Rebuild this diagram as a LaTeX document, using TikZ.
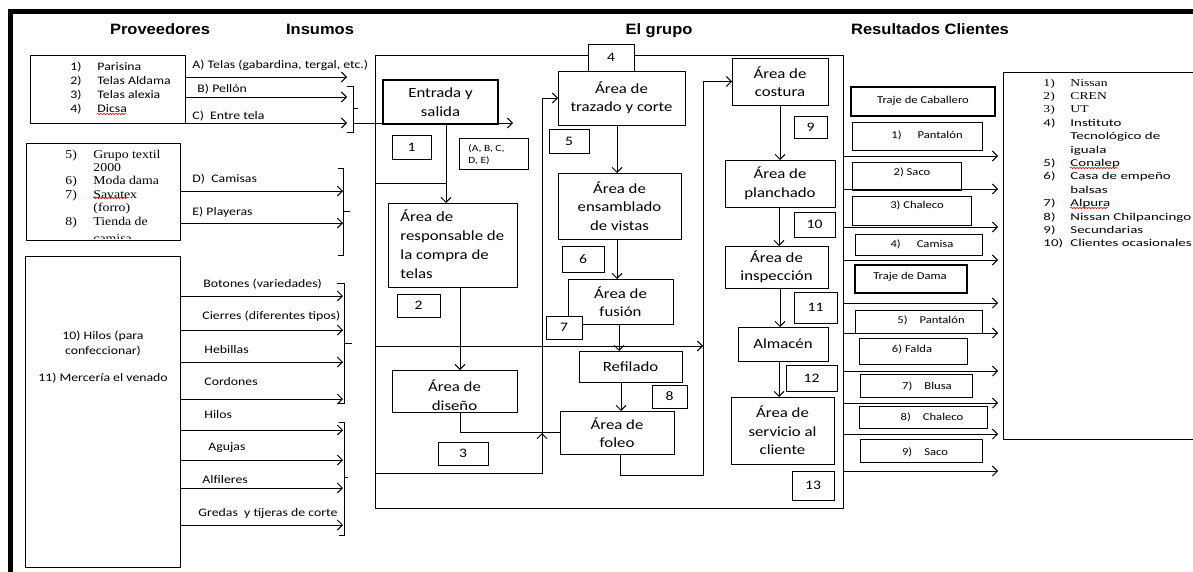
\documentclass[tikz,border=0pt]{standalone}
\usepackage{fontspec}
\usetikzlibrary{arrows.meta,calc,decorations.pathmorphing}
\newfontfamily\bodyfont{Carlito}[FakeStretch=1.2]
\newfontfamily\listfont{Carlito}[FakeStretch=1.42]
\newfontfamily\seriffont{Liberation Serif}[FakeStretch=1.15]
\newfontfamily\listserif{Liberation Serif}[FakeStretch=1.3]
\newfontfamily\titlefont{Liberation Sans}[FakeStretch=1.1]
\newcommand\fs[2]{\fontsize{#1}{#2}\selectfont}
\newcommand\lft[1]{\begin{tabular}[t]{@{}l@{}}#1\end{tabular}}
\begin{document}
\begin{tikzpicture}[x=1pt,y=-1pt,line width=0.9pt,
  rect/.style args={#1/#2/#3/#4}{at={({(#1+#3)/2},{(#2+#4)/2})},minimum width={(#3-#1)*1pt},minimum height={(#4-#2)*1pt}},
  box/.style={draw,inner sep=0pt,outer sep=0pt,line width=0.9pt,anchor=center},
  numbox/.style={box,fill=white,font=\bodyfont\fs{13}{15}},
  area/.style={box,fill=white,align=center,font=\bodyfont\fs{14}{18.5}},
  thickbox/.style={box,line width=2.2pt},
  arr/.style={-{Straight Barb[length=5pt,width=10pt]},line width=0.9pt},
  lbl/.style={anchor=west,inner sep=0pt,font=\bodyfont\fs{11.5}{14}},
  restxt/.style={inner sep=0pt,font=\bodyfont\fs{10.5}{12}},
  title/.style={inner sep=0pt,anchor=base,font=\titlefont\bfseries\fs{15}{18}},
  spell/.style={red,line width=0.5pt,decorate,decoration={snake,amplitude=0.8pt,segment length=3pt}}]
\useasboundingbox (0,0) rectangle (1193,571);
\fill[white] (0,0) rectangle (1193,571);
\clip (0,0) rectangle (1193,571);
% frame
\draw[line width=5pt] (10.5,600) -- (10.5,11) -- (1220,11);
% titles
\node[title] (tprov) at (160,34) {Proveedores};
\node[title] (tins) at (320,34) {Insumos};
\node[title] (tgrp) at (659,34) {El grupo};
\node[title] (tres) at (930,34) {Resultados Clientes};
% suppliers
\node[box,rect=30/55/185/123] (s1) {};
\node[anchor=base west,inner sep=0pt,font=\bodyfont\fs{11.5}{14}] (s1t) at (70,70)
  {\begin{tabular}[t]{@{}p{27pt}@{}l@{}}1)&Parisina\\2)&Telas Aldama\\3)&Telas alexia\\4)&Dicsa\end{tabular}};
\draw[spell] (97,114) -- (126,114);
\node[box,rect=26/143/180/240] (s2) {};
\node[anchor=base west,inner sep=0pt,font=\seriffont\fs{12}{13.4}] (s2t) at (65,158)
  {\begin{tabular}[t]{@{}p{28pt}@{}l@{}}5)&Grupo textil\\&2000\\6)&Moda dama\\7)&Savatex\\&(forro)\\8)&Tienda de\end{tabular}};
\begin{scope}
  \clip (27,144) rectangle (179,238.5);
  \node[anchor=base west,inner sep=0pt,font=\seriffont\fs{12}{13.4}] (s2c) at (93,242) {camisa};
\end{scope}
\draw[spell] (93,198) -- (128,198);
\node[box,rect=25/256/180/567] (s3) {};
\node[align=center,inner sep=0pt,font=\bodyfont\fs{11.5}{15}] (s3t) at (103,357)
  {10) Hilos (para\\confeccionar)\\[12pt]11) Mercería el venado};
% input arrows
\foreach \src/\y/\ex/\lx/\ly/\txt [count=\i] in {
  s1/77/347/192/65/{A) Telas (gabardina, tergal, etc.)},
  s1/97/347/197/89/{B) Pellón},
  s1/123/347/192/116/{C)\ \ Entre tela},
  s2/191/343/192/179/{D)\ \ Camisas},
  s2/223/343/192/212/{E) Playeras},
  s3/296/343/203/284/{Botones (variedades)},
  s3/330/343/202/316/{Cierres (diferentes tipos)},
  s3/362/343/204/350/{Hebillas},
  s3/399/343/204/382/{Cordones},
  s3/430/343/204/415/{Hilos},
  s3/460/343/208/448/{Agujas},
  s3/488/343/202/480/{Alfileres},
  s3/525/343/198/513/{Gredas\ \ y tijeras de corte}}{
  \coordinate (in\i) at (\ex,\y);
  \draw[arr] (\src.east |- in\i) -- (in\i);
  \node[lbl] (lab\i) at (\lx,\ly) {\txt};
}
% brackets
\draw (347,86) -- (353,86) -- (353,132) -- (347,132); \draw (353,108) -- (358,108);
\draw (338,168) -- (343,168) -- (343,255) -- (338,255); \draw (343,211) -- (350,211);
\draw (337,283) -- (344,283) -- (344,403) -- (338,403); \draw (344,343) -- (352,343);
\draw (339,422) -- (344,422) -- (344,535) -- (339,535); \draw (344,477) -- (348,477);
% group box
\node[box,rect=375/55/843/508] (grupo) {};
% coordinates
\coordinate (cin) at (353,123);
\coordinate (cinend) at (513,123);
\coordinate (j1) at (446,183);
\coordinate (tz) at (542,98);
\coordinate (jd) at (542,433);
\coordinate (mid) at (703,346);
\coordinate (fl) at (703,475);
% areas left
\node[area,line width=2.2pt,rect=383/80/498/124] (entrada) {Entrada y\\salida};
\node[box,rect=388/203/517/287] (resp) {};
\node[box,fill=white,rect=392/370/517/412] (diseno) {};
\begin{scope}
  \clip (393,371) rectangle (516,411.5);
  \node[align=center,inner sep=0pt,font=\bodyfont\fs{14}{18.5}] (disenot) at (454.5,395) {Área de\\diseño};
\end{scope}
% middle areas
\node[area,rect=558/71/685/125] (trazado) {Área de\\trazado y corte};
\node[area,rect=558/173/681/239] (ens) {Área de\\ensamblado\\de vistas};
\node[area,rect=568/279/673/324] (fusion) {Área de\\fusión};
\node[area,rect=579/351/682/382] (refil) {Refilado};
\node[area,rect=560/411/674/454] (foleo) {Área de\\foleo};
% right areas
\node[area,rect=732/58/828/105] (costura) {Área de\\costura};
\node[area,rect=725/160/835/207] (planch) {Área de\\planchado};
\node[area,rect=725/246/828/288] (insp) {Área de\\inspección};
\node[area,rect=738/327/828/361] (almacen) {Almacén};
\node[area,rect=731/397/834/464] (servicio) {Área de\\servicio al\\cliente};
% connectors in group
\draw[arr] (cin) -- (cinend);
\draw[arr] (entrada.south -| j1) -- (resp.north -| j1);
\draw (grupo.west |- j1) -- (j1);
\draw[arr] (resp.south -| 460,0) -- (diseno.north -| 460,0);
\draw (diseno.south -| 460,0) |- (foleo.west);
\draw[arr] (542,441) -- (jd);
\draw[arr] (grupo.west |- 0,473) -| (tz) -- (trazado.west);
\draw[arr] (trazado.south -| 617,0) -- (ens.north -| 617,0);
\draw[arr] (ens.south -| 617,0) -- (fusion.north -| 617,0);
\draw[arr] (fusion.south -| 619,0) -- (refil.north -| 619,0);
\draw[arr] (refil.south -| 621,0) -- (foleo.north -| 621,0);
\draw[arr] (grupo.west |- mid) -- (mid);
\draw[arr] (foleo.south -| 620,0) |- (fl) -- (costura.west -| fl) -- (costura.west);
\draw[arr] (costura.south -| 780,0) -- (planch.north -| 780,0);
\draw[arr] (planch.south -| 779,0) -- (insp.north -| 779,0);
\draw[arr] (insp.south -| 780,0) -- (almacen.north -| 780,0);
\draw[arr] (almacen.south -| 779,0) -- (servicio.north -| 779,0);
% responsable text
\node[anchor=base west,inner sep=0pt,font=\bodyfont\fs{14}{19}] (respt) at (400,221)
  {\lft{Área de\\responsable de\\la compra de\\telas}};
% number boxes
\node[numbox,rect=392/135/431/159] (n1) {1};
\node[box,fill=white,rect=459/138/528/169] (abc) {};
\node[anchor=base west,inner sep=0pt,font=\bodyfont\fs{9.5}{12}] (abct) at (468,151) {\lft{(A, B, C,\\D, E)}};
\node[numbox,rect=397/294/440/317] (n2) {2};
\node[numbox,rect=438/442/488/465] (n3) {3};
\node[numbox,rect=588/44/634/71] (n4) {4};
\node[numbox,rect=549/129/589/153] (n5) {5};
\node[numbox,rect=562/246/604/272] (n6) {6};
\node[numbox,rect=546/316/582/339] (n7) {7};
\node[numbox,rect=652/385/687/408] (n8) {8};
\node[numbox,rect=794/116/827/138] (n9) {9};
\node[numbox,rect=794/212/835/237] (n10) {10};
\node[numbox,rect=794/292/837/323] (n11) {11};
\node[numbox,rect=786/365/837/391] (n12) {12};
\node[numbox,rect=792/471/834/500] (n13) {13};
% output arrows
\foreach \y [count=\i] in {156,189,227,260,303,333,371,403,434,471}{
  \coordinate (out\i) at (998,\y);
  \draw[arr] (grupo.east |- out\i) -- (out\i);
}
% result boxes
\node[thickbox,rect=851/87/995/116] (r0) {};
\node[box,rect=852/122/982/150] (r1) {};
\node[box,rect=852/162/961/190] (r2) {};
\node[box,rect=852/196/971/225] (r3) {};
\node[box,rect=855/234/982/255] (r4) {};
\node[thickbox,rect=855/265/967/293] (rd) {};
\node[box,rect=855/310/982/333] (r5) {};
\node[box,rect=859/338/967/364] (r6) {};
\node[box,rect=860/374/972/397] (r7) {};
\node[box,rect=859/406/987/428] (r8) {};
\node[box,rect=860/439/982/462] (r9) {};
\node[restxt] (r0t) at (923,101) {Traje de Caballero};
\node[restxt] (r1t) at (927,135) {1)\hspace{16pt}Pantalón};
\node[restxt] (r2t) at (912,172) {2) Saco};
\node[restxt] (r3t) at (917,205) {3) Chaleco};
\node[restxt] (r4t) at (922,244) {4)\hspace{16pt}Camisa};
\node[restxt] (rdt) at (910,277) {Traje de Dama};
\node[restxt] (r5t) at (931,320) {5)\hspace{12pt}Pantalón};
\node[restxt] (r6t) at (912,349) {6) Falda};
\node[restxt] (r7t) at (927,386) {7)\hspace{12pt}Blusa};
\node[restxt] (r8t) at (932,417) {8)\hspace{12pt}Chaleco};
\node[restxt] (r9t) at (925,452) {9)\hspace{12pt}Saco};
% clients
\node[box,rect=1003/72/1210/439] (clientes) {};
\node[anchor=base west,inner sep=0pt,font=\listfont\fs{10.5}{13.4}] (clt) at (1043,86)
  {\begin{tabular}[t]{@{}p{27pt}@{}l@{}}
  \listserif 1)&\listserif Nissan\\
  \listserif 2)&\listserif CREN\\
  \listserif 3)&\listserif UT\\
  4)&Instituto\\
  &Tecnológico de\\
  &iguala\\
  5)&Conalep\\
  6)&Casa de empeño\\
  &balsas\\
  7)&Alpura\\
  8)&Nissan Chilpancingo\\
  9)&Secundarias\\
  10)&Clientes ocasionales
  \end{tabular}};
\draw[spell] (1070,168) -- (1118,168);
\draw[spell] (1070,208) -- (1108,208);
\end{tikzpicture}
\end{document}
